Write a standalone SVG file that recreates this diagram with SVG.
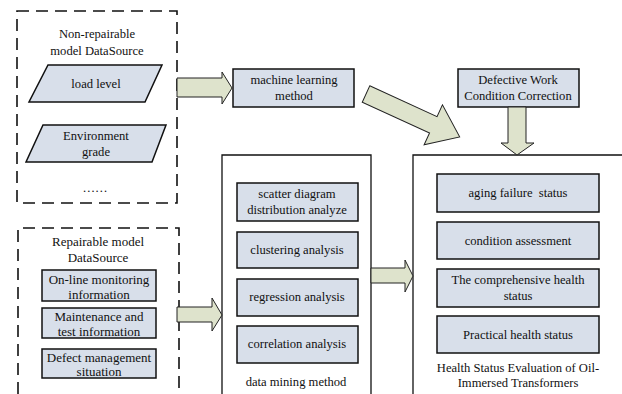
<svg xmlns="http://www.w3.org/2000/svg" width="622" height="394" viewBox="0 0 622 394">
<style>
text{font-family:"Liberation Serif","Times New Roman",serif;font-size:12.6px;fill:#111;text-anchor:middle}
.big{font-size:13px}
.box{fill:#d8dfea;stroke:#111;stroke-width:1.5}
.frame{fill:none;stroke:#111;stroke-width:1.3}
.dash{fill:none;stroke:#111;stroke-width:1.6;stroke-dasharray:12 7}
.arr{fill:#dee3cc;stroke:#222;stroke-width:1}
</style>
<rect width="622" height="394" fill="#fff"/>
<g id="nonrep">
<rect class="dash" x="17" y="11" width="160" height="192"/>
<text x="97" y="38">Non-repairable</text>
<text x="97" y="55">model DataSource</text>
</g>
<g id="load"><polygon class="box" points="48,65 162,65 145,102 29,102"/><text x="96" y="88">load level</text></g>
<g id="env"><polygon class="box" points="43,125 166,125 152,162 26,162"/><text x="96" y="140">Environment</text><text x="96" y="156">grade</text></g>
<g id="dots"><text x="95" y="192">……</text></g>
<g id="rep">
<path class="dash" d="M18,394 V228 H179 V394"/>
<text class="big" x="98" y="246">Repairable model</text>
<text class="big" x="98" y="262">DataSource</text>
</g>
<g id="online"><rect class="box" x="42" y="270" width="114" height="31"/><text class="big" x="99" y="284">On-line monitoring</text><text class="big" x="99" y="299">information</text></g>
<g id="maint"><rect class="box" x="42" y="308" width="114" height="30"/><text class="big" x="99" y="321">Maintenance and</text><text class="big" x="99" y="336">test information</text></g>
<g id="defect"><rect class="box" x="42" y="349" width="114" height="29"/><text class="big" x="99" y="362">Defect management</text><text class="big" x="99" y="376">situation</text></g>
<g id="ml"><rect class="box" x="233" y="69" width="121" height="38"/><text x="294" y="84">machine learning</text><text x="294" y="100">method</text></g>
<g id="dwcc"><rect class="box" x="458" y="69" width="121" height="38"/><text x="518" y="84">Defective Work</text><text x="518" y="100">Condition Correction</text></g>
<g id="dm">
<path class="frame" d="M222,394 V155 H371 V394"/>
<text x="296" y="386">data mining method</text>
</g>
<g id="scatter"><rect class="box" x="237" y="183" width="121" height="38"/><text x="297" y="198">scatter diagram</text><text x="297" y="214">distribution analyze</text></g>
<g id="cluster"><rect class="box" x="237" y="232" width="121" height="36"/><text x="297" y="254">clustering analysis</text></g>
<g id="regr"><rect class="box" x="237" y="279" width="121" height="37"/><text x="297" y="301">regression analysis</text></g>
<g id="corr"><rect class="box" x="237" y="326" width="121" height="37"/><text x="297" y="348">correlation analysis</text></g>
<g id="health">
<path class="frame" d="M413,394 V155 H623"/>
<text x="518" y="372">Health Status Evaluation of Oil-</text>
<text x="518" y="387">Immersed Transformers</text>
</g>
<g id="aging"><rect class="box" x="437" y="174" width="162" height="38"/><text x="518" y="197">aging failure&#160; status</text></g>
<g id="cond"><rect class="box" x="437" y="222" width="162" height="37"/><text x="518" y="245">condition assessment</text></g>
<g id="comp"><rect class="box" x="437" y="269" width="162" height="38"/><text x="518" y="284">The comprehensive health</text><text x="518" y="300">status</text></g>
<g id="pract"><rect class="box" x="437" y="316" width="162" height="37"/><text x="518" y="339">Practical health status</text></g>
<g id="connectors">
<polygon class="arr" points="177,78 222,78 222,72 232,88 222,104 222,97 177,97"/>
<polygon class="arr" transform="translate(366,94) rotate(24.6)" points="0,-9 74,-9 74,-22 103,0 74,22 74,9 0,9"/>
<polygon class="arr" points="508,107 526,107 526,143 534,143 517,155 501,143 508,143"/>
<polygon class="arr" points="177,307 212,307 212,298 222,315 212,331 212,322 177,322"/>
<polygon class="arr" points="371,268 405,268 405,260 413,276 405,292 405,283 371,283"/>
</g>
</svg>
